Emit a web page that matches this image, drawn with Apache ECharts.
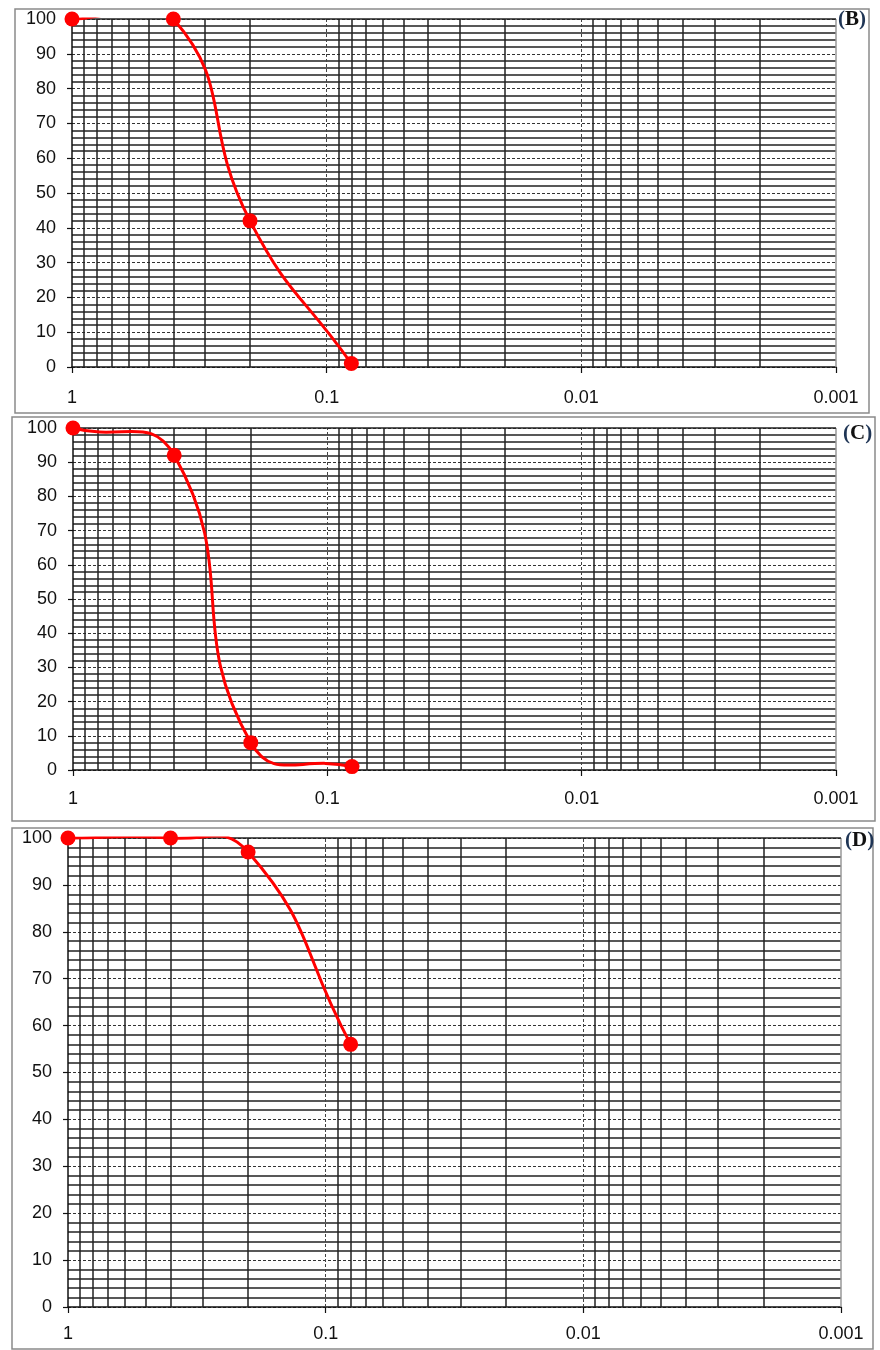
<!DOCTYPE html>
<html><head><meta charset="utf-8">
<script src="https://cdn.jsdelivr.net/npm/echarts@6/dist/echarts.min.js"></script>
<style>html,body{margin:0;padding:0;background:#fff}#c{width:880px;height:1350px}</style>
</head><body><div id="c"></div>
<script>
// ---- data ----
const panelLabels = ['(B)', '(C)', '(D)'];
const sizesB = [1, 0.4, 0.2, 0.08];
const passingB = [100, 100, 42, 1];
const sizesC = [1, 0.4, 0.2, 0.08];
const passingC = [100, 92, 8, 1];
const sizesD = [1, 0.4, 0.2, 0.08];
const passingD = [100, 100, 97, 56];
const xTickLabels = ['1', '0.1', '0.01', '0.001'];
const minorXLines = [0.9, 0.8, 0.7, 0.6, 0.5, 0.4, 0.3, 0.2,
                     0.09, 0.08, 0.07, 0.06, 0.05, 0.04, 0.03, 0.02,
                     0.009, 0.008, 0.007, 0.006, 0.005, 0.004, 0.003, 0.002];
const decadeXLines = [0.1, 0.01];
const edgeXLines = [0.001];
const topYLines = [100];

// ---- layout ----
const grids = [
  {left: 72, right: 44, top: 19, height: 348},
  {left: 73, right: 44, top: 428, height: 342},
  {left: 68, right: 39, top: 838, height: 469}
];
const xLabelMargins = [22, 20, 18];
const boxes = [
  {x: 15, y: 9, w: 854, h: 404},
  {x: 12, y: 417, w: 863, h: 404},
  {x: 12, y: 828, w: 861, h: 521}
];
const labelPos = [[838, 9], [843, 423], [845, 830]];
const seriesData = [
  sizesB.map((s, i) => [s, passingB[i]]),
  sizesC.map((s, i) => [s, passingC[i]]),
  sizesD.map((s, i) => [s, passingD[i]])
];
const SMOOTH = 0.5;

const font = 'Liberation Sans, Arial, sans-serif';
function fmtX(v) {
  const l = xTickLabels.find(t => Math.abs(Math.log10(+t) - Math.log10(v)) < 1e-6);
  return l === undefined ? '' : l;
}

// spreadsheet-style smooth segment (unclamped cardinal bezier) between point k and k+1,
// positions taken from the axes through api.coord
function makeRenderItem(data) {
  return function (params, api) {
    const k = params.dataIndex;
    const n = data.length;
    if (k >= n - 1) return null;
    const P = data.map(d => api.coord(d));
    function ctrl(i) {
      const p = P[i];
      const prev = P[Math.max(i - 1, 0)];
      const next = P[Math.min(i + 1, n - 1)];
      const vx = next[0] - prev[0], vy = next[1] - prev[1];
      const lp = Math.hypot(p[0] - prev[0], p[1] - prev[1]);
      const ln = Math.hypot(next[0] - p[0], next[1] - p[1]);
      const rn = (lp + ln) ? ln / (lp + ln) : 0;
      return {
        out: [p[0] + vx * SMOOTH * rn, p[1] + vy * SMOOTH * rn],
        inn: [p[0] - vx * SMOOTH * (1 - rn), p[1] - vy * SMOOTH * (1 - rn)]
      };
    }
    const a = ctrl(k).out, b = ctrl(k + 1).inn;
    return {
      type: 'bezierCurve',
      shape: {x1: P[k][0], y1: P[k][1], x2: P[k + 1][0], y2: P[k + 1][1],
              cpx1: a[0], cpy1: a[1], cpx2: b[0], cpy2: b[1]},
      style: {stroke: '#ff0000', lineWidth: 3, fill: null, lineCap: 'round'}
    };
  };
}

const xAxis = [], yAxis = [], series = [], graphic = [];
grids.forEach((g, i) => {
  xAxis.push({
    type: 'log', logBase: 10, min: 0.001, max: 1, inverse: true, gridIndex: i, splitNumber: 3,
    axisLine: {show: true, onZero: false, lineStyle: {color: '#111', width: 1.5}},
    axisTick: {show: true, length: 6, lineStyle: {color: '#111', width: 1.2}},
    axisLabel: {margin: xLabelMargins[i], fontSize: 18, color: '#111', fontFamily: font, formatter: fmtX},
    splitLine: {show: false}, minorTick: {show: false}, minorSplitLine: {show: false}
  });
  yAxis.push({
    type: 'value', min: 0, max: 100, interval: 10, gridIndex: i,
    axisLine: {show: true, onZero: false, lineStyle: {color: '#111', width: 1.5}},
    axisTick: {show: true, length: 5, lineStyle: {color: '#111', width: 1.2}},
    axisLabel: {margin: 16, fontSize: 18, color: '#111', fontFamily: font},
    splitLine: {show: true, lineStyle: {type: [3, 2], color: '#333', width: 1}},
    minorTick: {show: false, splitNumber: 5},
    minorSplitLine: {show: true, lineStyle: {color: '#222', width: 1.5}}
  });
  const ml = []
    .concat(minorXLines.map(v => ({xAxis: v, lineStyle: {color: '#222', width: 1.5, type: 'solid'}})))
    .concat(decadeXLines.map(v => ({xAxis: v, lineStyle: {color: '#444', width: 1, type: [3, 2]}})))
    .concat(edgeXLines.map(v => ({xAxis: v, lineStyle: {color: '#999', width: 1.5, type: 'solid'}})))
    .concat(topYLines.map(v => ({yAxis: v, lineStyle: {color: '#222', width: 1.5, type: 'solid'}})));
  series.push({
    type: 'line', xAxisIndex: i, yAxisIndex: i, data: seriesData[i],
    symbol: 'none', lineStyle: {opacity: 0}, silent: true, z: 1, animation: false,
    markLine: {silent: true, symbol: 'none', precision: 10, animation: false, label: {show: false}, data: ml}
  });
  series.push({
    type: 'custom', xAxisIndex: i, yAxisIndex: i, data: seriesData[i],
    renderItem: makeRenderItem(seriesData[i]), clip: true, z: 10, silent: true, animation: false,
    lineStyle: {width: 3},
    encode: {x: 0, y: 1}
  });
  series.push({
    type: 'scatter', xAxisIndex: i, yAxisIndex: i, data: seriesData[i],
    symbol: 'circle', symbolSize: 15, z: 11, silent: true, animation: false,
    itemStyle: {color: '#ff0000', opacity: 1}
  });
  const b = boxes[i];
  graphic.push({type: 'rect', shape: {x: b.x, y: b.y, width: b.w, height: b.h},
    style: {fill: 'none', stroke: '#8a8a8a', lineWidth: 1.5}, silent: true, z: 0});
  graphic.push({type: 'text', x: labelPos[i][0], y: labelPos[i][1], z: 20,
    style: {text: '{p|(}{l|' + panelLabels[i].slice(1, -1) + '}{p|)}',
      rich: {p: {fontFamily: 'Liberation Serif', fontWeight: 'bold', fontSize: 21, fill: '#1f3555'},
             l: {fontFamily: 'Liberation Serif', fontWeight: 'bold', fontSize: 21, fill: '#111'}}}});
});

const chart = echarts.init(document.getElementById('c'), null, {renderer: 'canvas'});
chart.setOption({animation: false, grid: grids, xAxis, yAxis, series, graphic});
</script></body></html>
